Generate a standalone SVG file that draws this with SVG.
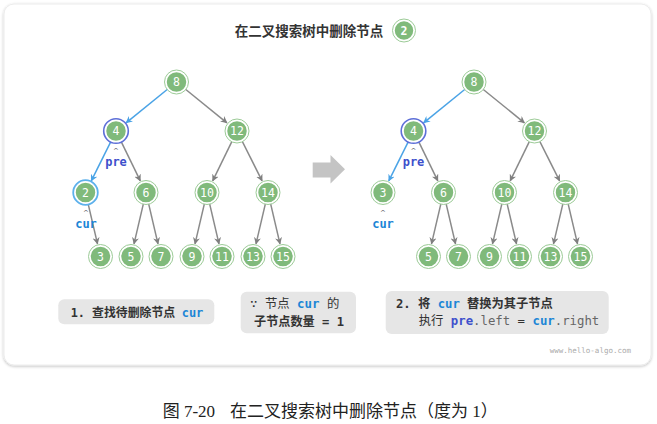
<svg xmlns="http://www.w3.org/2000/svg" width="657" height="424" viewBox="0 0 657 424">
<defs>
<filter id="sh" x="-5%" y="-5%" width="110%" height="115%">
<feGaussianBlur in="SourceAlpha" stdDeviation="1.5"/>
<feOffset dy="1" result="b"/>
<feComponentTransfer><feFuncA type="linear" slope="0.25"/></feComponentTransfer>
<feMerge><feMergeNode/><feMergeNode in="SourceGraphic"/></feMerge>
</filter>
<marker id="ag" viewBox="0 0 10 10" refX="9" refY="5" markerWidth="7" markerHeight="7" markerUnits="userSpaceOnUse" orient="auto">
<path d="M0,0 L10,5 L0,10 L3,5 Z" fill="#7f7f7f"/>
</marker>
<marker id="ab" viewBox="0 0 10 10" refX="9" refY="5" markerWidth="7" markerHeight="7" markerUnits="userSpaceOnUse" orient="auto">
<path d="M0,0 L10,5 L0,10 L3,5 Z" fill="#4aa3e6"/>
</marker>
</defs>
<style>
.e{stroke:#8a8a8a;stroke-width:1.5;fill:none;marker-end:url(#ag)}
.eb{stroke:#4aa3e6;stroke-width:1.5;fill:none;marker-end:url(#ab)}
.nf{fill:#80ba7b;stroke:#ffffff;stroke-width:1.5}
.nr{fill:none;stroke:#9ccb97;stroke-width:1}
.rp{fill:none;stroke:#5d6fd8;stroke-width:1.6}
.rc{fill:none;stroke:#5db1ec;stroke-width:1.8}
.nt{font-family:"DejaVu Sans Mono",monospace;font-size:11.5px;fill:#ffffff;text-anchor:middle}
.lbl{font-family:"DejaVu Sans Mono",monospace;font-size:12px;text-anchor:middle}
.caret{font-family:"DejaVu Sans",sans-serif;font-size:7px;fill:#555;text-anchor:middle}
.box{fill:#e6e6e6}
.bt{font-family:"DejaVu Sans Mono","Noto Sans CJK SC",monospace;font-size:12.5px;fill:#333}
.pre{fill:#3e50cc;font-weight:bold}
.cur{fill:#1d86d6;font-weight:bold}
</style>
<rect x="4" y="4" width="647" height="361" rx="10" fill="#ffffff" stroke="#ececec" stroke-width="1" filter="url(#sh)"/>
<g id="title">
<text x="309" y="35.5" font-family="'Noto Sans CJK SC',sans-serif" font-size="13.5" font-weight="bold" fill="#333" text-anchor="middle">在二叉搜索树中删除节点</text>
<circle cx="404" cy="30.5" r="10" class="nf"/>
<circle cx="404" cy="30.5" r="11.5" class="nr"/>
<text x="404" y="34.5" class="nt" font-weight="bold">2</text>
</g>
<g id="connectors">
<line x1="167.2" y1="89.5" x2="126.1" y2="122.8" class="eb"/>
<line x1="185.8" y1="89.5" x2="226.9" y2="122.8" class="e"/>
<line x1="110.7" y1="141.8" x2="91.3" y2="180.9" class="eb"/>
<line x1="121.3" y1="141.8" x2="140.3" y2="180.8" class="e"/>
<line x1="231.7" y1="141.8" x2="212.7" y2="180.8" class="e"/>
<line x1="242.4" y1="141.7" x2="262.1" y2="180.9" class="e"/>
<line x1="88.2" y1="204.2" x2="97.5" y2="243.8" class="e"/>
<line x1="143.3" y1="204.2" x2="134" y2="243.8" class="e"/>
<line x1="148.7" y1="204.2" x2="158" y2="243.8" class="e"/>
<line x1="204.3" y1="204.2" x2="195" y2="243.8" class="e"/>
<line x1="209.7" y1="204.2" x2="219" y2="243.8" class="e"/>
<line x1="265.3" y1="204.2" x2="256" y2="243.8" class="e"/>
<line x1="270.7" y1="204.2" x2="280" y2="243.8" class="e"/>
<g transform="translate(297.5,0)">
<line x1="167.2" y1="89.5" x2="126.1" y2="122.8" class="eb"/>
<line x1="185.8" y1="89.5" x2="226.9" y2="122.8" class="e"/>
<line x1="110.7" y1="141.8" x2="91.3" y2="180.9" class="eb"/>
<line x1="121.3" y1="141.8" x2="140.3" y2="180.8" class="e"/>
<line x1="231.7" y1="141.8" x2="212.7" y2="180.8" class="e"/>
<line x1="242.4" y1="141.7" x2="262.1" y2="180.9" class="e"/>
<line x1="143.3" y1="204.2" x2="134" y2="243.8" class="e"/>
<line x1="148.7" y1="204.2" x2="158" y2="243.8" class="e"/>
<line x1="204.3" y1="204.2" x2="195" y2="243.8" class="e"/>
<line x1="209.7" y1="204.2" x2="219" y2="243.8" class="e"/>
<line x1="265.3" y1="204.2" x2="256" y2="243.8" class="e"/>
<line x1="270.7" y1="204.2" x2="280" y2="243.8" class="e"/>
</g>
</g>
<g id="L8"><circle cx="176.5" cy="82" r="10.5" class="nf"/><circle cx="176.5" cy="82" r="12" class="nr"/><text x="176.5" y="86" class="nt">8</text></g>
<g id="L4"><circle cx="116" cy="131" r="10.5" class="nf"/><circle cx="116" cy="131" r="12.3" class="rp"/><text x="116" y="135" class="nt">4</text></g>
<g id="L12"><circle cx="237" cy="131" r="10.5" class="nf"/><circle cx="237" cy="131" r="12" class="nr"/><text x="237" y="135" class="nt">12</text></g>
<g id="L2"><circle cx="85.5" cy="192.5" r="10.5" class="nf"/><circle cx="85.5" cy="192.5" r="12.3" class="rc"/><text x="85.5" y="196.5" class="nt">2</text></g>
<g id="L6"><circle cx="146" cy="192.5" r="10.5" class="nf"/><circle cx="146" cy="192.5" r="12" class="nr"/><text x="146" y="196.5" class="nt">6</text></g>
<g id="L10"><circle cx="207" cy="192.5" r="10.5" class="nf"/><circle cx="207" cy="192.5" r="12" class="nr"/><text x="207" y="196.5" class="nt">10</text></g>
<g id="L14"><circle cx="268" cy="192.5" r="10.5" class="nf"/><circle cx="268" cy="192.5" r="12" class="nr"/><text x="268" y="196.5" class="nt">14</text></g>
<g id="L3"><circle cx="100.5" cy="256.5" r="10.5" class="nf"/><circle cx="100.5" cy="256.5" r="12" class="nr"/><text x="100.5" y="260.5" class="nt">3</text></g>
<g id="L5"><circle cx="131" cy="256.5" r="10.5" class="nf"/><circle cx="131" cy="256.5" r="12" class="nr"/><text x="131" y="260.5" class="nt">5</text></g>
<g id="L7"><circle cx="161" cy="256.5" r="10.5" class="nf"/><circle cx="161" cy="256.5" r="12" class="nr"/><text x="161" y="260.5" class="nt">7</text></g>
<g id="L9"><circle cx="192" cy="256.5" r="10.5" class="nf"/><circle cx="192" cy="256.5" r="12" class="nr"/><text x="192" y="260.5" class="nt">9</text></g>
<g id="L11"><circle cx="222" cy="256.5" r="10.5" class="nf"/><circle cx="222" cy="256.5" r="12" class="nr"/><text x="222" y="260.5" class="nt">11</text></g>
<g id="L13"><circle cx="253" cy="256.5" r="10.5" class="nf"/><circle cx="253" cy="256.5" r="12" class="nr"/><text x="253" y="260.5" class="nt">13</text></g>
<g id="L15"><circle cx="283" cy="256.5" r="10.5" class="nf"/><circle cx="283" cy="256.5" r="12" class="nr"/><text x="283" y="260.5" class="nt">15</text></g>
<g id="Lpre"><text x="116" y="153" class="caret">^</text><text x="116" y="166" class="lbl pre">pre</text></g>
<g id="Lcur"><text x="86" y="215" class="caret">^</text><text x="86" y="228" class="lbl cur">cur</text></g>
<g id="bigarrow"><path d="M312.7,162.5 H330.5 V155 L345,169.2 L330.5,183.4 V177.5 H312.7 Z" fill="#c4c4c4"/></g>
<g id="R8"><circle cx="474" cy="82" r="10.5" class="nf"/><circle cx="474" cy="82" r="12" class="nr"/><text x="474" y="86" class="nt">8</text></g>
<g id="R4"><circle cx="413.5" cy="131" r="10.5" class="nf"/><circle cx="413.5" cy="131" r="12.3" class="rp"/><text x="413.5" y="135" class="nt">4</text></g>
<g id="R12"><circle cx="534.5" cy="131" r="10.5" class="nf"/><circle cx="534.5" cy="131" r="12" class="nr"/><text x="534.5" y="135" class="nt">12</text></g>
<g id="R3"><circle cx="383" cy="192.5" r="10.5" class="nf"/><circle cx="383" cy="192.5" r="12" class="nr"/><text x="383" y="196.5" class="nt">3</text></g>
<g id="R6"><circle cx="443.5" cy="192.5" r="10.5" class="nf"/><circle cx="443.5" cy="192.5" r="12" class="nr"/><text x="443.5" y="196.5" class="nt">6</text></g>
<g id="R10"><circle cx="504.5" cy="192.5" r="10.5" class="nf"/><circle cx="504.5" cy="192.5" r="12" class="nr"/><text x="504.5" y="196.5" class="nt">10</text></g>
<g id="R14"><circle cx="565.5" cy="192.5" r="10.5" class="nf"/><circle cx="565.5" cy="192.5" r="12" class="nr"/><text x="565.5" y="196.5" class="nt">14</text></g>
<g id="R5"><circle cx="428.5" cy="256.5" r="10.5" class="nf"/><circle cx="428.5" cy="256.5" r="12" class="nr"/><text x="428.5" y="260.5" class="nt">5</text></g>
<g id="R7"><circle cx="458.5" cy="256.5" r="10.5" class="nf"/><circle cx="458.5" cy="256.5" r="12" class="nr"/><text x="458.5" y="260.5" class="nt">7</text></g>
<g id="R9"><circle cx="489.5" cy="256.5" r="10.5" class="nf"/><circle cx="489.5" cy="256.5" r="12" class="nr"/><text x="489.5" y="260.5" class="nt">9</text></g>
<g id="R11"><circle cx="519.5" cy="256.5" r="10.5" class="nf"/><circle cx="519.5" cy="256.5" r="12" class="nr"/><text x="519.5" y="260.5" class="nt">11</text></g>
<g id="R13"><circle cx="550.5" cy="256.5" r="10.5" class="nf"/><circle cx="550.5" cy="256.5" r="12" class="nr"/><text x="550.5" y="260.5" class="nt">13</text></g>
<g id="R15"><circle cx="580.5" cy="256.5" r="10.5" class="nf"/><circle cx="580.5" cy="256.5" r="12" class="nr"/><text x="580.5" y="260.5" class="nt">15</text></g>
<g id="Rpre"><text x="413.5" y="153" class="caret">^</text><text x="413.5" y="166" class="lbl pre">pre</text></g>
<g id="Rcur"><text x="383" y="215" class="caret">^</text><text x="383" y="228" class="lbl cur">cur</text></g>
<g id="box1"><rect x="58.3" y="299.3" width="156" height="25" rx="6" class="box"/>
<text x="70.7" y="316.8" class="bt" font-weight="bold" textLength="104.5" lengthAdjust="spacingAndGlyphs">1. 查找待删除节点</text>
<text x="181.7" y="316.8" class="bt cur" textLength="21.6" lengthAdjust="spacingAndGlyphs">cur</text></g>
<g id="box2"><rect x="240.7" y="291.7" width="115.3" height="41.6" rx="6" class="box"/>
<text x="250" y="307.5" class="bt" textLength="89.3" lengthAdjust="spacingAndGlyphs">∵ 节点 <tspan class="cur">cur</tspan> 的</text>
<text x="254" y="325.5" class="bt" font-weight="bold" textLength="90" lengthAdjust="spacingAndGlyphs">子节点数量 = 1</text></g>
<g id="box3"><rect x="385.7" y="291" width="223" height="43" rx="6" class="box"/>
<text x="396" y="308.3" class="bt" font-weight="bold" textLength="156.7" lengthAdjust="spacingAndGlyphs">2. 将 <tspan class="cur">cur</tspan> 替换为其子节点</text>
<text x="418.7" y="325.2" class="bt" textLength="180.6" lengthAdjust="spacingAndGlyphs">执行 <tspan class="pre">pre</tspan><tspan fill="#666">.left</tspan> = <tspan class="cur">cur</tspan><tspan fill="#666">.right</tspan></text></g>
<text x="631" y="353" font-family="'DejaVu Sans Mono',monospace" font-size="7.5" fill="#aaaaaa" text-anchor="end">www.hello-algo.com</text>
<g id="caption" font-family="'Liberation Serif','Noto Sans CJK SC',serif" font-size="17" fill="#222">
<text x="162.7" y="417">图 7-20</text>
<text x="230" y="417">在二叉搜索树中删除节点（度为 1）</text>
</g>
</svg>
